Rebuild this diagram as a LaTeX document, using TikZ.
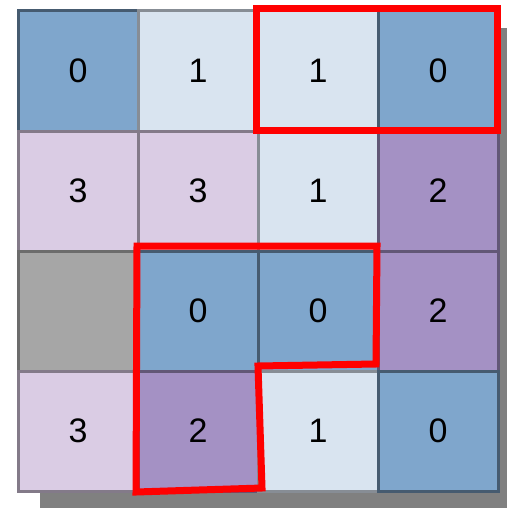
\documentclass[tikz,border=0pt]{standalone}
\usepackage{fontspec}
\setmainfont{Liberation Sans}
\definecolor{cdark}{HTML}{7FA6CC}
\definecolor{clight}{HTML}{D9E4F0}
\definecolor{cpale}{HTML}{DACCE4}
\definecolor{cmid}{HTML}{A491C4}
\definecolor{cgray}{HTML}{A6A6A6}
\definecolor{cshadow}{HTML}{808080}
\definecolor{cred}{HTML}{FF0000}
\tikzset{
  cell/.style={minimum width=120pt, minimum height=120pt, inner sep=0pt, outer sep=0pt,
    line width=3pt, font=\fontsize{34}{40}\selectfont},
  c0/.style={cell, fill=cdark, draw=cdark!55!black},
  c1/.style={cell, fill=clight, draw=clight!62!black},
  c2/.style={cell, fill=cmid, draw=cmid!60!black},
  c3/.style={cell, fill=cpale, draw=cpale!60!black},
  cE/.style={cell, fill=cgray, draw=cgray!65!black},
  region/.style={draw=cred, line width=7pt, line join=miter}
}
\begin{document}
\begin{tikzpicture}[x=1pt,y=-1pt]
\useasboundingbox (0,0) rectangle (506,508);
\fill[cshadow] (40,28) rectangle (520,520);
% row 1
\node[c0] (a1) at (78,71) {0};
\node[c1] (a2) at (198,71) {1};
\node[c1] (a3) at (318,71) {1};
\node[c0] (a4) at (438,71) {0};
% row 2
\node[c3] (b1) at (78,191) {3};
\node[c3] (b2) at (198,191) {3};
\node[c1] (b3) at (318,191) {1};
\node[c2] (b4) at (438,191) {2};
% row 3
\node[cE] (d1) at (78,311) {};
\node[c0] (d2) at (198,311) {0};
\node[c0] (d3) at (318,311) {0};
\node[c2] (d4) at (438,311) {2};
% row 4
\node[c3] (e1) at (78,431) {3};
\node[c2] (e2) at (198,431) {2};
\node[c1] (e3) at (318,431) {1};
\node[c0] (e4) at (438,431) {0};
% red outlines
\draw[region] (256,8.5) rectangle (497,130);
\draw[region] (137,246) -- (377,246) -- (376,364) -- (258,366) -- (262,488) -- (136,492) -- cycle;
\end{tikzpicture}
\end{document}
